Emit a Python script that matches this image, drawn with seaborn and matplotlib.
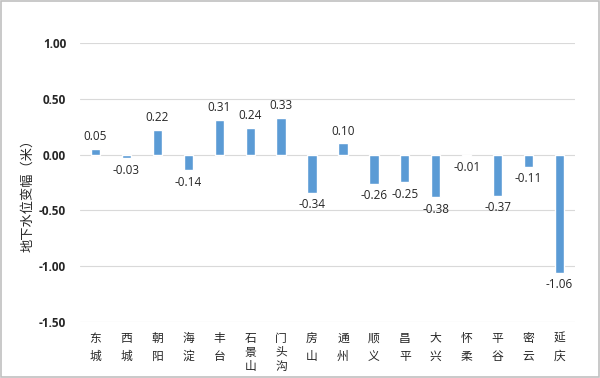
import matplotlib
matplotlib.use('Agg')
import matplotlib.pyplot as plt
import seaborn as sns
from matplotlib.patches import Rectangle

districts = ['东城', '西城', '朝阳', '海淀', '丰台', '石景山', '门头沟', '房山',
             '通州', '顺义', '昌平', '大兴', '怀柔', '平谷', '密云', '延庆']
changes = [0.05, -0.03, 0.22, -0.14, 0.31, 0.24, 0.33, -0.34,
           0.10, -0.26, -0.25, -0.38, -0.01, -0.37, -0.11, -1.06]
y_ticks = [-1.5, -1.0, -0.5, 0.0, 0.5, 1.0]

sns.set_theme(style='white')
plt.rcParams['font.family'] = ['Noto Sans CJK SC', 'DejaVu Sans']

fig = plt.figure(figsize=(6, 3.78), dpi=100)
ax = fig.add_axes([80 / 600, 1 - 322 / 378, 495 / 600, 279 / 378])

sns.barplot(x=districts, y=changes, color='#5b9bd5', width=0.3, saturation=1, ax=ax, zorder=3)

ax.set_ylim(-1.5, 1.0)
ax.set_xlim(-0.5, len(districts) - 0.5)
ax.set_yticks(y_ticks)
ax.set_yticklabels([f'{t:.2f}' for t in y_ticks], fontsize=8.5, fontweight='bold',
                   family=['Open Sans', 'DejaVu Sans'])
ax.set_xticks(range(len(districts)))
ax.set_xticklabels(['\n'.join(d) for d in districts], fontsize=8.5, va='top')
# two-character names are spread out more than three-character ones
for lbl, d in zip(ax.get_xticklabels(), districts):
    lbl.set_linespacing(1.55 if len(d) == 2 else 1.1)
ax.tick_params(axis='y', length=0, pad=10)
ax.tick_params(axis='x', length=0, pad=7)
for y in y_ticks:
    ax.axhline(y, color='#d9d9d9', lw=0.8, zorder=1)
for s in ax.spines.values():
    s.set_visible(False)
ax.set_xlabel('')
ax.set_ylabel('地下水位变幅（米）', fontsize=9.5)
ax.yaxis.set_label_coords(-0.093, 0.466)

for i, v in enumerate(changes):
    if v >= 0:
        ax.annotate(f'{v:.2f}', (i, v), xytext=(0, 4), textcoords='offset points',
                    ha='center', va='bottom', fontsize=8.5, family=['Open Sans', 'DejaVu Sans'])
    else:
        ax.annotate(f'{v:.2f}', (i, v), xytext=(0, -4), textcoords='offset points',
                    ha='center', va='top', fontsize=8.5, family=['Open Sans', 'DejaVu Sans'])

fig.patches.append(Rectangle((0.002, 0.003), 0.996, 0.994, transform=fig.transFigure,
                             fill=False, edgecolor='#c0c0c0', lw=1.2))

fig.savefig('out.png', dpi=100)
plt.close(fig)
